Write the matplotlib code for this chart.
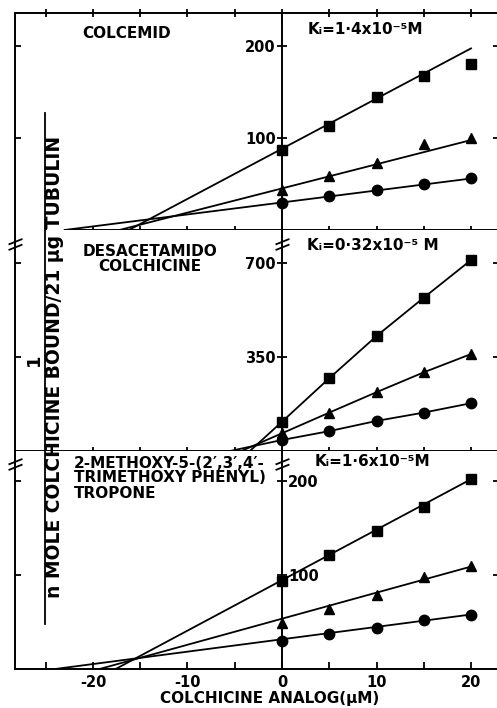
import numpy as np
import matplotlib.pyplot as plt
from matplotlib.path import Path
from matplotlib.lines import Line2D

plt.rcParams['font.family'] = ['DejaVu Sans']
plt.rcParams['font.weight'] = 'bold'
plt.rcParams['axes.unicode_minus'] = False

# analog concentration (uM)
conc = [0, 5, 10, 15, 20]

# panel 1: colcemid
colcemid_sq = [87, 113, 145, 168, 180]
colcemid_tri = [43, 59, 73, 93, 100]
colcemid_circ = [29, 37, 43, 50, 57]
# fitted lines (x ends, y ends)
colcemid_fit_x = [[-16.2, 20], [-17.2, 20], [-23.0, 20]]
colcemid_fit_y = [[0, 197.5], [0, 97.8], [0, 56]]

# panel 2: desacetamido colchicine
desacet_sq = [109, 271, 428, 571, 711]
desacet_tri = [66, 143, 219, 293, 361]
desacet_circ = [41, 74, 112, 143, 178]
desacet_start = [-3.4, -4.3, -5.5]   # where each line meets the baseline

# panel 3: 2-methoxy-5-(2',3',4'-trimethoxyphenyl)tropone
tropone_sq = [94, 121, 147, 172, 202]
tropone_tri = [49, 64, 79, 98, 110]
tropone_circ = [30, 37, 44, 52, 57.5]
tropone_fit_x = [[-17.6, 20], [-19.3, 20], [-24.0, 20]]
tropone_fit_y = [[0, 202], [0, 109], [0, 58]]

panel_ticks = [[100, 200], [350, 700], [100, 200]]
panel_ylim = [236, 823, 232]
xmajor = [-20, -10, 0, 10, 20]
xminor = [-25, -15, -5, 5, 15]

XMIN, XMAX = -28.25, 22.96
W, H = 497, 708

fig = plt.figure(figsize=(W / 100, H / 100), dpi=100)

def px(x, y):
    return x / W, 1 - y / H

# panel rects in pixels: (top, bottom)
rows = [(13, 230), (230, 451), (451, 669)]
axes = []
for (top, bot), ylim, yt in zip(rows, panel_ylim, panel_ticks):
    ax = fig.add_axes([15 / W, 1 - bot / H, 484 / W, (bot - top) / H])
    ax.set_xlim(XMIN, XMAX)
    ax.set_ylim(0, ylim)
    ax.set_yticks(yt)
    ax.tick_params(axis='y', left=True, right=True, labelleft=False,
                   direction='in', length=4.5, width=1.3)
    ax.set_xticks(xmajor)
    ax.set_xticks(xminor, minor=True)
    for s in ax.spines.values():
        s.set_linewidth(1.4)
    axes.append(ax)

ax1, ax2, ax3 = axes
for ax in (ax1, ax2):
    ax.tick_params(axis='x', which='both', bottom=True, top=False,
                   labelbottom=False, direction='inout', length=6, width=1.3)
ax1.tick_params(axis='x', which='both', top=True, direction='in')
ax1.tick_params(axis='x', which='both', bottom=True, direction='inout')
ax1.spines['bottom'].set_bounds(-23.0, XMAX)
ax2.spines['top'].set_visible(False)
ax3.spines['top'].set_visible(False)
ax3.tick_params(axis='x', which='both', top=False, direction='in',
                length=5, width=1.3, labelsize=10.5, pad=4)

# central axis at x = 0
pos0 = (0 - XMIN) / (XMAX - XMIN)
for i, ax in enumerate(axes):
    sec = ax.secondary_yaxis(pos0)
    sec.set_yticks(panel_ticks[i])
    if i < 2:
        sec.set_alignment('left')
    sec.tick_params(direction='inout', length=7, width=1.3, labelsize=10.5, pad=1)
    for s in sec.spines.values():
        s.set_linewidth(1.4)

mk = dict(color='black', linestyle='none', markersize=7.5)
lw = 1.3

# panel 1
for fx, fy in zip(colcemid_fit_x, colcemid_fit_y):
    ax1.plot(fx, fy, color='black', lw=lw)
ax1.plot(conc, colcemid_sq, marker='s', **mk)
ax1.plot(conc, colcemid_tri, marker='^', **mk)
ax1.plot(conc, colcemid_circ, marker='o', **mk)

# panel 2
for ys, x0, m in zip([desacet_sq, desacet_tri, desacet_circ], desacet_start, ['s', '^', 'o']):
    ax2.plot([x0] + conc, [0] + ys, color='black', lw=lw)
    ax2.plot(conc, ys, marker=m, **mk)

# panel 3
for fx, fy in zip(tropone_fit_x, tropone_fit_y):
    ax3.plot(fx, fy, color='black', lw=lw)
ax3.plot(conc, tropone_sq, marker='s', **mk)
ax3.plot(conc, tropone_tri, marker='^', **mk)
ax3.plot(conc, tropone_circ, marker='o', **mk)

# axis break marks
brk = Path([(-1, -0.8), (1, 0.0), (-1, 0.0), (1, 0.8)],
           [Path.MOVETO, Path.LINETO, Path.MOVETO, Path.LINETO])
for ax, yb in ((ax2, 770), (ax3, 218)):
    ax.plot([XMIN, 0], [yb, yb], linestyle='none', marker=brk, markersize=10,
            mew=1.3, color='black', clip_on=False)

# text
fs = 11
fig.text(*px(82, 33), 'COLCEMID', ha='left', va='center', fontsize=fs)
fig.text(*px(308, 30), 'Kᵢ=1·4x10⁻⁵M', ha='left', va='center', fontsize=fs)
fig.text(*px(150, 259), 'DESACETAMIDO\nCOLCHICINE', ha='center', va='center',
         fontsize=fs, linespacing=1.0)
fig.text(*px(307, 246), 'Kᵢ=0·32x10⁻⁵ M', ha='left', va='center', fontsize=fs)
fig.text(*px(74, 478), '2-METHOXY-5-(2′,3′,4′-\nTRIMETHOXY PHENYL)\nTROPONE',
         ha='left', va='center', fontsize=fs, linespacing=1.0)
fig.text(*px(315, 462), 'Kᵢ=1·6x10⁻⁵M', ha='left', va='center', fontsize=fs)

fig.text(*px(270, 699), 'COLCHICINE ANALOG(μM)', ha='center', va='center', fontsize=fs)
fig.text(*px(55, 367), 'n MOLE COLCHICINE BOUND/21 μg TUBULIN', rotation=90,
         ha='center', va='center', fontsize=13.5)
fig.text(*px(34, 360), '1', rotation=90, ha='center', va='center', fontsize=13)
fig.add_artist(Line2D([45 / W, 45 / W], [1 - 113 / H, 1 - 624 / H],
                      transform=fig.transFigure, color='black', lw=1.3))

fig.savefig('out.png', dpi=100)
